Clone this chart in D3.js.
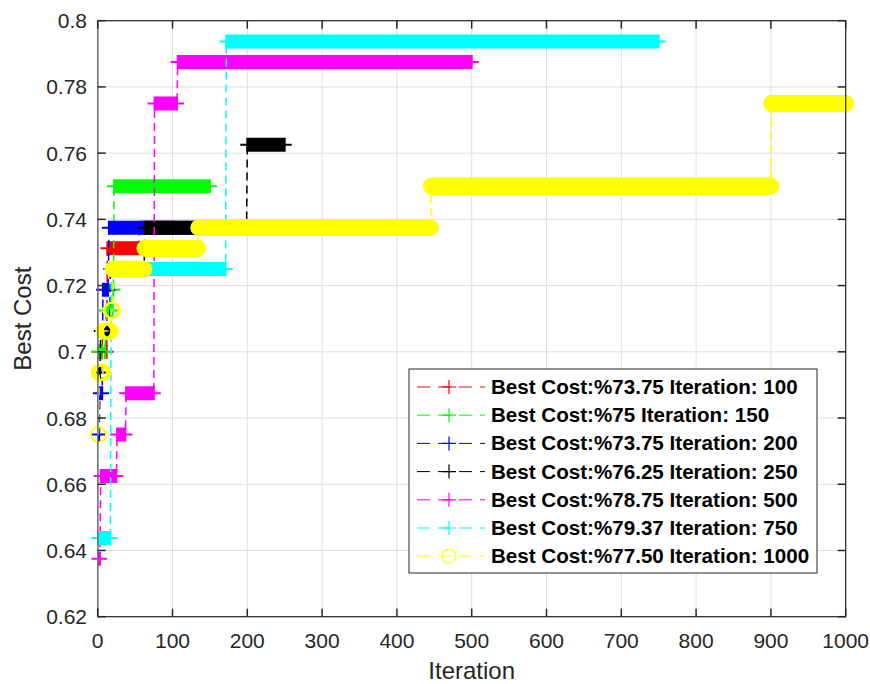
<!DOCTYPE html>
<html>
<head>
<meta charset="utf-8">
<script src="https://cdn.jsdelivr.net/npm/d3@7.9.0/dist/d3.min.js"></script>
<style>
  body { margin: 0; background: #fff; }
  text { font-family: "Liberation Sans", Arial, Helvetica, sans-serif; fill: #262626; }
</style>
</head>
<body>
<svg id="chart" width="870" height="684"></svg>
<script>
// legend text, colours, markers and iteration counts of each run
const labels = [
  'Best Cost:%73.75 Iteration: 100',
  'Best Cost:%75 Iteration: 150',
  'Best Cost:%73.75 Iteration: 200',
  'Best Cost:%76.25 Iteration: 250',
  'Best Cost:%78.75 Iteration: 500',
  'Best Cost:%79.37 Iteration: 750',
  'Best Cost:%77.50 Iteration: 1000'
];
const colors = ['#ff0000', '#00ff00', '#0000ff', '#000000', '#ff00ff', '#00ffff', '#ffff00'];
const markers = ['+', '+', '+', '+', '+', '+', 'o'];
const iterations = [100, 150, 200, 250, 500, 750, 1000];

// best cost improvements: [iteration where it starts, best cost]
const redSteps     = [[1, 0.7], [13, 0.73125], [56, 0.7375]];
const greenSteps   = [[1, 0.7], [11, 0.7125], [21, 0.71875], [22, 0.75]];
const blueSteps    = [[1, 0.675], [3, 0.6875], [7, 0.71875], [15, 0.7375]];
const blackSteps   = [[1, 0.69375], [4, 0.70625], [17, 0.725], [63, 0.7375], [200, 0.7625]];
const magentaSteps = [[1, 0.6375], [4, 0.6625], [26, 0.675], [38, 0.6875], [76, 0.775], [107, 0.7875]];
const cyanSteps    = [[1, 0.64375], [18, 0.725], [172, 0.79375]];
const yellowSteps  = [[1, 0.675], [2, 0.69375], [8, 0.70625], [18, 0.7125], [21, 0.725], [63, 0.73125],
                      [135, 0.7375], [446, 0.75], [901, 0.775]];
const allSteps = [redSteps, greenSteps, blueSteps, blackSteps, magentaSteps, cyanSteps, yellowSteps];

const xTicks = [0, 100, 200, 300, 400, 500, 600, 700, 800, 900, 1000];
const yTicks = [0.62, 0.64, 0.66, 0.68, 0.7, 0.72, 0.74, 0.76, 0.78, 0.8];

const svg = d3.select('#chart');
const pLeft = 97.7, pRight = 845.7, pTop = 20.7, pBottom = 616.7;
const axisColor = '#262626';

const x = d3.scaleLinear().domain([0, 1000]).range([pLeft, pRight]);
const y = d3.scaleLinear().domain([0.62, 0.8]).range([pBottom, pTop]);

// grid
const grid = svg.append('g');
xTicks.forEach(t => {
  grid.append('line').attr('x1', x(t)).attr('x2', x(t)).attr('y1', pTop).attr('y2', pBottom)
    .attr('stroke', '#dfdfdf').attr('stroke-width', 1);
});
yTicks.forEach(t => {
  grid.append('line').attr('x1', pLeft).attr('x2', pRight).attr('y1', y(t)).attr('y2', y(t))
    .attr('stroke', '#dfdfdf').attr('stroke-width', 1);
});

// best cost is held between improvements
function expand(steps, n) {
  let pts = [];
  let k = 0;
  for (let it = 1; it <= n; it++) {
    while (k + 1 < steps.length && steps[k + 1][0] <= it) k++;
    pts.push([it, steps[k][1]]);
  }
  return pts;
}

const line = d3.line().x(d => x(d[0])).y(d => y(d[1]));
const plusPath = (px, py, s) => `M${px - s},${py}h${2 * s}M${px},${py - s}v${2 * s}`;

allSteps.forEach((steps, i) => {
  let pts = expand(steps, iterations[i]);
  let g = svg.append('g');
  g.append('path').attr('d', line(pts)).attr('fill', 'none')
    .attr('stroke', colors[i]).attr('stroke-width', 1.5).attr('stroke-dasharray', '8,5');
  if (markers[i] === '+') {
    g.append('path')
      .attr('d', pts.map(d => plusPath(x(d[0]), y(d[1]), 7)).join(''))
      .attr('fill', 'none').attr('stroke', colors[i]).attr('stroke-width', 2);
  } else {
    g.selectAll('circle').data(pts).join('circle')
      .attr('cx', d => x(d[0])).attr('cy', d => y(d[1])).attr('r', 7.5)
      .attr('fill', 'none').attr('stroke', colors[i]).attr('stroke-width', 1.8);
  }
});

// axes box and ticks
const ax = svg.append('g');
ax.append('rect').attr('x', pLeft).attr('y', pTop).attr('width', pRight - pLeft).attr('height', pBottom - pTop)
  .attr('fill', 'none').attr('stroke', axisColor).attr('stroke-width', 1.2);
ax.append('line').attr('x1', pLeft).attr('x2', pLeft).attr('y1', pTop).attr('y2', pBottom)
  .attr('stroke', '#7a7a7a').attr('stroke-width', 1.4);
xTicks.forEach(t => {
  ax.append('line').attr('x1', x(t)).attr('x2', x(t)).attr('y1', pBottom).attr('y2', pBottom - 8)
    .attr('stroke', axisColor).attr('stroke-width', 1.5);
  ax.append('line').attr('x1', x(t)).attr('x2', x(t)).attr('y1', pTop).attr('y2', pTop + 8)
    .attr('stroke', axisColor).attr('stroke-width', 1.5);
  ax.append('text').attr('x', x(t)).attr('y', 648).attr('text-anchor', 'middle')
    .attr('font-size', 21).text(t);
});
yTicks.forEach(t => {
  ax.append('line').attr('x1', pLeft).attr('x2', pLeft + 8).attr('y1', y(t)).attr('y2', y(t))
    .attr('stroke', axisColor).attr('stroke-width', 1.5);
  ax.append('line').attr('x1', pRight).attr('x2', pRight - 8).attr('y1', y(t)).attr('y2', y(t))
    .attr('stroke', axisColor).attr('stroke-width', 1.5);
  ax.append('text').attr('x', 87).attr('y', y(t) + 7.5).attr('text-anchor', 'end')
    .attr('font-size', 21).text(d3.format('~g')(t));
});

svg.append('text').attr('x', (pLeft + pRight) / 2).attr('y', 679).attr('text-anchor', 'middle')
  .attr('font-size', 24).text('Iteration');
svg.append('text').attr('transform', `translate(31,${(pTop + pBottom) / 2}) rotate(-90)`)
  .attr('text-anchor', 'middle').attr('font-size', 24).text('Best Cost');

// legend
const lg = svg.append('g');
lg.append('rect').attr('x', 409).attr('y', 369).attr('width', 408).attr('height', 204)
  .attr('fill', '#fff').attr('stroke', axisColor).attr('stroke-width', 1);
labels.forEach((lab, i) => {
  let cy = 387 + i * 28.2;
  lg.append('line').attr('x1', 417).attr('x2', 485).attr('y1', cy).attr('y2', cy)
    .attr('stroke', colors[i]).attr('stroke-width', 1).attr('stroke-dasharray', '13,8');
  if (markers[i] === '+') {
    lg.append('path').attr('d', plusPath(449, cy, 7)).attr('stroke', colors[i]).attr('stroke-width', 1.2);
  } else {
    lg.append('circle').attr('cx', 449).attr('cy', cy).attr('r', 7)
      .attr('fill', 'none').attr('stroke', colors[i]).attr('stroke-width', 1.2);
  }
  lg.append('text').attr('x', 491).attr('y', cy + 7).attr('font-size', 20.6)
    .attr('font-weight', 'bold').style('fill', '#000').text(lab);
});
</script>
</body>
</html>
